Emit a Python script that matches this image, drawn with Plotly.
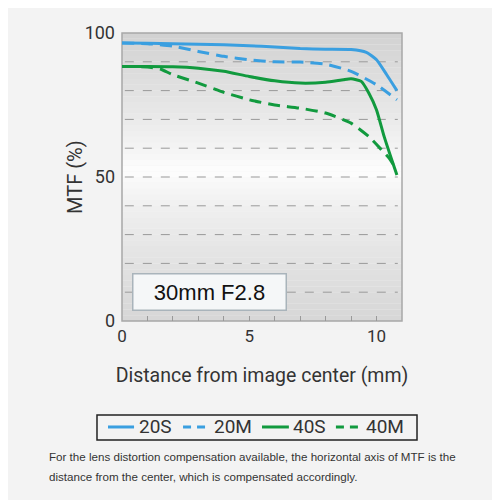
import plotly.graph_objects as go

# MTF values (distance in mm, MTF in %)
x_20s = [0, 1, 2, 3, 4, 5, 6, 7, 8, 9, 9.6, 10, 10.4, 10.8]
y_20s = [96.5, 96.4, 96.3, 96.1, 95.9, 95.6, 95.1, 94.6, 94.4, 94.3, 93.3, 90.7, 85.5, 80.0]

x_20m = [0, 1, 2, 3, 4, 5, 6, 7, 8, 9, 10, 10.8]
y_20m = [96.5, 96.3, 95.4, 93.6, 91.9, 90.7, 90.0, 89.9, 89.2, 86.7, 82.0, 76.8]

x_40s = [0, 1, 2, 3, 4, 5, 6, 7, 8, 8.7, 9, 9.4, 9.7, 10, 10.3, 10.6, 10.8]
y_40s = [88.4, 88.4, 88.3, 87.8, 86.7, 84.9, 83.4, 82.6, 82.9, 83.8, 84.1, 83.2, 79.1, 73.3, 64.0, 55.9, 50.7]

x_40m = [0, 1, 1.5, 2, 3, 4, 5, 6, 7, 8, 9, 9.7, 10.2, 10.5, 10.8]
y_40m = [88.4, 88.2, 87.5, 85.5, 82.6, 79.4, 76.8, 75.0, 73.9, 72.2, 68.7, 64.0, 59.4, 56.5, 52.4]

series = [
    ("20S", x_20s, y_20s, "#3a9fe0", "solid"),
    ("20M", x_20m, y_20m, "#3a9fe0", "dash"),
    ("40S", x_40s, y_40s, "#119a3e", "solid"),
    ("40M", x_40m, y_40m, "#119a3e", "dash"),
]

x_ticks = [0, 5, 10]
y_ticks = [0, 50, 100]

fig = go.Figure()
for name, xs, ys, col, dash in series:
    fig.add_trace(go.Scatter(x=xs, y=ys, mode="lines", name=name, showlegend=False,
                             line=dict(color=col, width=3,
                                       dash="12px,7px" if dash == "dash" else "solid",
                                       shape="spline", smoothing=0.5)))

# gradient background for the plot area (grey at top/bottom, white near middle)
shapes = []
n = 50
for i in range(n):
    t = (i + 0.5) / n  # 0 bottom, 1 top
    if t > 0.52:
        k = (t - 0.52) / 0.48
        v = int(255 - 45 * k ** 0.8)
    else:
        k = (0.52 - t) / 0.52
        v = int(255 - 40 * k ** 0.7)
    shapes.append(dict(type="rect", xref="paper", yref="paper", x0=0, x1=1,
                       y0=i / n, y1=(i + 1) / n, fillcolor=f"rgb({v},{v},{v})",
                       line=dict(width=0), layer="below"))
shapes.append(dict(type="rect", xref="paper", yref="paper", x0=0, x1=1, y0=0, y1=1,
                   line=dict(color="#a8a8a8", width=1.5), layer="below"))
# dashed grid lines
for g in range(10, 100, 10):
    shapes.append(dict(type="line", xref="paper", yref="y", x0=0.01, x1=0.985, y0=g, y1=g,
                       line=dict(color="#999999", width=1, dash="dash"), layer="below"))

# hand-made legend box below the axis title
shapes.append(dict(type="rect", xref="paper", yref="paper", x0=-0.0893, x1=1.0536,
                   y0=-0.413, y1=-0.326, line=dict(color="#222", width=1.5)))
leg_pos = [(-0.05, 0.043, 0.054), (0.218, 0.307, 0.321), (0.5, 0.596, 0.604), (0.764, 0.85, 0.864)]
annotations = []
for (name, _, _, col, dash), (lx0, lx1, tx) in zip(series, leg_pos):
    shapes.append(dict(type="line", xref="paper", yref="paper", x0=lx0, x1=lx1, y0=-0.368, y1=-0.368,
                       line=dict(color=col, width=3, dash="8px,6px" if dash == "dash" else "solid")))
    annotations.append(dict(text=name, xref="paper", yref="paper", x=tx, y=-0.368,
                            xanchor="left", yanchor="middle", showarrow=False,
                            font=dict(size=19, color="#333")))

annotations += [
    dict(text="MTF (%)", xref="paper", yref="paper", x=-0.168, y=0.5, textangle=-90,
         xanchor="center", yanchor="middle", showarrow=False,
         font=dict(size=20, color="#333")),
    dict(text="30mm F2.8", xref="paper", yref="paper", x=0.314, y=0.102,
         xanchor="center", yanchor="middle",
         showarrow=False, font=dict(size=22, color="#111", family="Liberation Sans, Arial"),
         bgcolor="#f5f7f8", bordercolor="#a9b4bb", borderwidth=1.5, borderpad=5, width=142),
    dict(text="For the lens distortion compensation available, the horizontal axis of MTF is the",
         xref="paper", yref="paper", x=-0.268, y=(321 - 456) / 288, xanchor="left", yanchor="middle",
         showarrow=False, font=dict(size=11.6, color="#333", family="Liberation Sans, Arial")),
    dict(text="distance from the center, which is compensated accordingly.",
         xref="paper", yref="paper", x=-0.268, y=(321 - 477) / 288, xanchor="left", yanchor="middle",
         showarrow=False, font=dict(size=11.6, color="#333", family="Liberation Sans, Arial")),
]

# page body adds 8px offset, so margins are shifted to compensate
fig.update_layout(
    width=500, height=500,
    margin=dict(l=114, r=106, t=25, b=187),
    paper_bgcolor="#f3f3f3",
    plot_bgcolor="rgba(0,0,0,0)",
    shapes=shapes,
    annotations=annotations,
    showlegend=False,
    font=dict(family="Roboto, Liberation Sans, sans-serif", color="#333"),
    xaxis=dict(range=[0, 11], tickvals=x_ticks, showgrid=False, zeroline=False, automargin=False,
               ticks="inside", ticklen=5, tickcolor="#999",
               minor=dict(ticks="inside", ticklen=5, tickcolor="#999", dtick=1),
               tickfont=dict(size=17, color="#333"), ticklabelstandoff=3,
               title=dict(text="Distance from image center (mm)", font=dict(size=19.5, color="#333"), standoff=23)),
    yaxis=dict(range=[0, 100], tickvals=y_ticks, showgrid=False, zeroline=False, automargin=False,
               tickfont=dict(size=18, color="#333"), ticklabelstandoff=6),
)

fig.write_html("out.html")
